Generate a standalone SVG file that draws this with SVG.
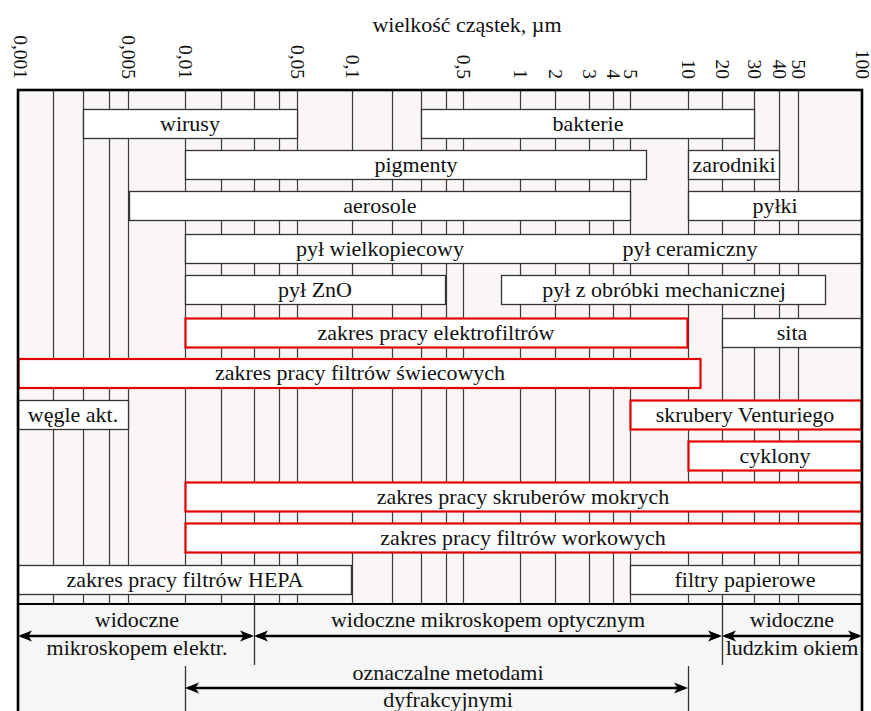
<svg xmlns="http://www.w3.org/2000/svg" width="871" height="711" viewBox="0 0 871 711">
<defs>
  <!-- barbed arrowhead, tip at x=0 -->
  <marker id="ah" viewBox="-15 -7 16 14" refX="-3" refY="0" markerWidth="16" markerHeight="14" markerUnits="userSpaceOnUse" orient="auto-start-reverse">
    <path d="M0,0 L-14,-5.5 L-10.5,0 L-14,5.5 Z" fill="#000"/>
  </marker>
</defs>
<style>
  text { font-family: "Liberation Serif", "Times New Roman", serif; fill: #111; }
  .t { font-size: 22px; text-anchor: middle; }
  .ax { font-size: 19.5px; text-anchor: end; }
  .box { fill: #fff; stroke: #333; stroke-width: 1.3; }
  .red { fill: #fff; stroke: #e00000; stroke-width: 2.2; }
  .grid line { stroke: #3a3a3a; stroke-width: 1.2; }
  .div { stroke: #333; stroke-width: 1.3; }
  .arr { stroke: #000; stroke-width: 2.6; fill: none; marker-start: url(#ah); marker-end: url(#ah); }
</style>

<rect x="0" y="0" width="871" height="711" fill="#fff"/>

<!-- axis title and scale labels -->
<text class="t" x="467" y="31.5">wielkość cząstek, µm</text>
<g id="scale">
  <text class="ax" transform="translate(14,79) rotate(90)">0,001</text>
  <text class="ax" transform="translate(121.5,79) rotate(90)">0,005</text>
  <text class="ax" transform="translate(178.5,79) rotate(90)">0,01</text>
  <text class="ax" transform="translate(290.5,79) rotate(90)">0,05</text>
  <text class="ax" transform="translate(345.5,79) rotate(90)">0,1</text>
  <text class="ax" transform="translate(456.5,79) rotate(90)">0,5</text>
  <text class="ax" transform="translate(513.5,79) rotate(90)">1</text>
  <text class="ax" transform="translate(548.5,79) rotate(90)">2</text>
  <text class="ax" transform="translate(582.5,79) rotate(90)">3</text>
  <text class="ax" transform="translate(606.5,79) rotate(90)">4</text>
  <text class="ax" transform="translate(623.5,79) rotate(90)">5</text>
  <text class="ax" transform="translate(681.5,79) rotate(90)">10</text>
  <text class="ax" transform="translate(715.5,79) rotate(90)">20</text>
  <text class="ax" transform="translate(747.5,79) rotate(90)">30</text>
  <text class="ax" transform="translate(772.5,79) rotate(90)">40</text>
  <text class="ax" transform="translate(791.5,79) rotate(90)">50</text>
  <text class="ax" transform="translate(855.5,79) rotate(90)">100</text>
</g>

<!-- panel backgrounds -->
<rect x="18" y="90" width="844" height="514" fill="#f9f6f5"/>
<rect x="18" y="604" width="844" height="110" fill="#f6f6f6"/>

<!-- logarithmic grid -->
<g class="grid">
  <line x1="53.5" y1="90" x2="53.5" y2="604"/>
  <line x1="83.5" y1="90" x2="83.5" y2="604"/>
  <line x1="109.5" y1="90" x2="109.5" y2="604"/>
  <line x1="128.5" y1="90" x2="128.5" y2="604"/>
  <line x1="185.5" y1="90" x2="185.5" y2="604"/>
  <line x1="221.5" y1="90" x2="221.5" y2="604"/>
  <line x1="254.5" y1="90" x2="254.5" y2="604"/>
  <line x1="279.5" y1="90" x2="279.5" y2="604"/>
  <line x1="297.5" y1="90" x2="297.5" y2="604"/>
  <line x1="352.5" y1="90" x2="352.5" y2="604"/>
  <line x1="392.5" y1="90" x2="392.5" y2="604"/>
  <line x1="421.5" y1="90" x2="421.5" y2="604"/>
  <line x1="446.5" y1="90" x2="446.5" y2="604"/>
  <line x1="463.5" y1="90" x2="463.5" y2="604"/>
  <line x1="520.5" y1="90" x2="520.5" y2="604"/>
  <line x1="555.5" y1="90" x2="555.5" y2="604"/>
  <line x1="589.5" y1="90" x2="589.5" y2="604"/>
  <line x1="613.5" y1="90" x2="613.5" y2="604"/>
  <line x1="630.5" y1="90" x2="630.5" y2="604"/>
  <line x1="688.5" y1="90" x2="688.5" y2="604"/>
  <line x1="722.5" y1="90" x2="722.5" y2="604"/>
  <line x1="754.5" y1="90" x2="754.5" y2="604"/>
  <line x1="779.5" y1="90" x2="779.5" y2="604"/>
  <line x1="798.5" y1="90" x2="798.5" y2="604"/>
</g>

<!-- particle ranges -->
<g id="wirusy"><rect class="box" x="83.5" y="109.5" width="214" height="29"/><text class="t" x="190" y="130.5">wirusy</text></g>
<g id="bakterie"><rect class="box" x="421.5" y="109.5" width="333" height="29"/><text class="t" x="588" y="130.5">bakterie</text></g>
<g id="pigmenty"><rect class="box" x="185.5" y="150.5" width="461" height="29"/><text class="t" x="416" y="171.5">pigmenty</text></g>
<g id="zarodniki"><rect class="box" x="688.5" y="150.5" width="91" height="29"/><text class="t" x="734" y="171.5">zarodniki</text></g>
<g id="aerosole"><rect class="box" x="129.5" y="191.5" width="501" height="29"/><text class="t" x="380" y="212.5">aerosole</text></g>
<g id="pylki"><rect class="box" x="688.5" y="191.5" width="173" height="29"/><text class="t" x="775" y="212.5">pyłki</text></g>
<g id="pyl-wielkopiecowy-ceramiczny"><rect class="box" x="185.5" y="234.5" width="676" height="29"/><text class="t" x="380" y="255.5">pył wielkopiecowy</text><text class="t" x="690" y="255.5">pył ceramiczny</text></g>
<g id="pyl-zno"><rect class="box" x="185.5" y="275.5" width="260" height="29"/><text class="t" x="315" y="296.5">pył ZnO</text></g>
<g id="pyl-obrobka"><rect class="box" x="501.5" y="275.5" width="324" height="29"/><text class="t" x="664" y="296.5">pył z obróbki mechanicznej</text></g>

<!-- separation equipment -->
<g id="elektrofiltry"><rect class="red" x="185.5" y="318.5" width="502" height="29"/><text class="t" x="436" y="339.5">zakres pracy elektrofiltrów</text></g>
<g id="sita"><rect class="box" x="722.5" y="318.5" width="139" height="29"/><text class="t" x="792" y="339.5">sita</text></g>
<g id="filtry-swiecowe"><rect class="red" x="18.5" y="359" width="682" height="29"/><text class="t" x="360" y="380">zakres pracy filtrów świecowych</text></g>
<g id="wegle"><rect class="box" x="18.5" y="400.5" width="110" height="29"/><text class="t" x="73" y="421.5">węgle akt.</text></g>
<g id="venturi"><rect class="red" x="630.5" y="400.5" width="231" height="29"/><text class="t" x="745" y="421.5">skrubery Venturiego</text></g>
<g id="cyklony"><rect class="red" x="688.5" y="441.5" width="173" height="29"/><text class="t" x="775" y="462.5">cyklony</text></g>
<g id="skrubery-mokre"><rect class="red" x="185.5" y="482.5" width="676" height="29"/><text class="t" x="523" y="503.5">zakres pracy skruberów mokrych</text></g>
<g id="filtry-workowe"><rect class="red" x="185.5" y="523.5" width="676" height="29"/><text class="t" x="523" y="544.5">zakres pracy filtrów workowych</text></g>
<g id="hepa"><rect class="box" x="18.5" y="565.5" width="333" height="29"/><text class="t" x="185" y="586.5">zakres pracy filtrów HEPA</text></g>
<g id="filtry-papierowe"><rect class="box" x="630.5" y="565.5" width="231" height="29"/><text class="t" x="745" y="586.5">filtry papierowe</text></g>

<!-- visibility / measurement ranges -->
<g id="dividers">
  <line class="div" x1="254.5" y1="604" x2="254.5" y2="665"/>
  <line class="div" x1="722.5" y1="604" x2="722.5" y2="665"/>
  <line class="div" x1="185.5" y1="666" x2="185.5" y2="711"/>
  <line class="div" x1="688.5" y1="666" x2="688.5" y2="711"/>
</g>
<g id="connectors">
  <line class="arr" x1="21" y1="636" x2="251" y2="636"/>
  <line class="arr" x1="257" y1="636" x2="719" y2="636"/>
  <line class="arr" x1="725" y1="636" x2="859" y2="636"/>
  <line class="arr" x1="188" y1="688" x2="685" y2="688"/>
</g>
<g id="elektronowy"><text class="t" x="137" y="627">widoczne</text><text class="t" x="137" y="655">mikroskopem elektr.</text></g>
<g id="optyczny"><text class="t" x="488" y="627">widoczne mikroskopem optycznym</text></g>
<g id="oko"><text class="t" x="792" y="627">widoczne</text><text class="t" x="792" y="655">ludzkim okiem</text></g>
<g id="dyfrakcja"><text class="t" x="448" y="680">oznaczalne metodami</text><text class="t" x="448" y="707">dyfrakcyjnymi</text></g>

<!-- frame -->
<line x1="18" y1="604" x2="862" y2="604" stroke="#000" stroke-width="2"/>
<rect x="18" y="90" width="844" height="640" fill="none" stroke="#000" stroke-width="2.6"/>
</svg>
